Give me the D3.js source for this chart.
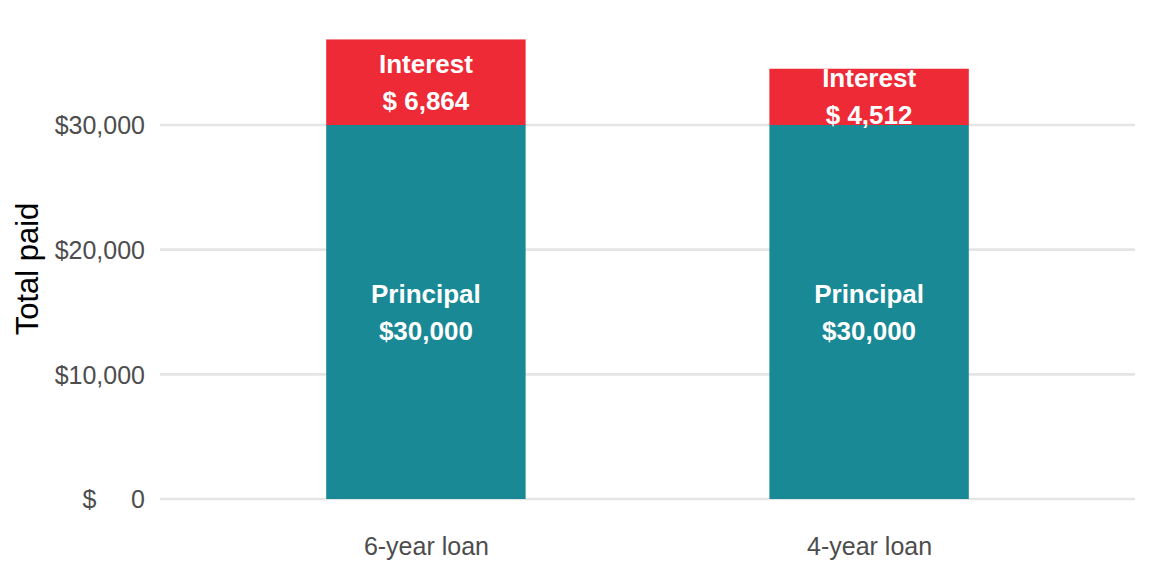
<!DOCTYPE html>
<html>
<head>
<meta charset="utf-8">
<script src="https://cdn.jsdelivr.net/npm/d3@7"></script>
<style>
  body { margin: 0; background: #fff; }
  text { font-family: "Liberation Sans", Arial, sans-serif; white-space: pre; }
</style>
</head>
<body>
<svg id="chart" width="1152" height="576"></svg>
<script>
var loans = ["6-year loan", "4-year loan"];
var principal = [30000, 30000];
var interest = [6864, 4512];
var yTicks = [0, 10000, 20000, 30000];
var tickLabels = ["$     0", "$10,000", "$20,000", "$30,000"];
var principalLabels = ["$30,000", "$30,000"];
var interestLabels = ["$ 6,864", "$ 4,512"];

var colours = { principal: "#1a8996", interest: "#ee2a36" };

var svg = d3.select("#chart");
var left = 160, right = 1135;

var x = d3.scalePoint().domain(loans).range([left, right]).padding(0.6);
var barW = x.step() * 0.45;
var y = d3.scaleLinear().domain([0, 30000]).range([499, 125]);

// gridlines
svg.append("g").selectAll("line")
  .data(yTicks).enter().append("line")
  .attr("x1", left).attr("x2", right)
  .attr("y1", function(d){ return y(d); })
  .attr("y2", function(d){ return y(d); })
  .attr("stroke", "#e5e5e5").attr("stroke-width", 2.6);

// y axis labels
var yAxis = svg.append("g").attr("transform", "translate(145,0)")
  .call(d3.axisLeft(y).tickValues(yTicks).tickSize(0).tickPadding(0)
    .tickFormat(function(d, i){ return tickLabels[i]; }));
yAxis.select(".domain").remove();
yAxis.selectAll("text").attr("fill", "#4d4d4d").style("font-size", "25px")
  .attr("font-family", null).attr("dy", "0.35em");

// x axis labels
var xAxis = svg.append("g").attr("transform", "translate(0,537)")
  .call(d3.axisBottom(x).tickSize(0).tickPadding(0));
xAxis.select(".domain").remove();
xAxis.selectAll("text").attr("fill", "#4d4d4d").style("font-size", "25px")
  .attr("font-family", null).attr("dy", "0.71em");

// y title
svg.append("text")
  .attr("transform", "translate(38,269) rotate(-90)")
  .attr("text-anchor", "middle")
  .style("font-size", "31px")
  .attr("fill", "#000")
  .text("Total paid");

// bars
var bars = svg.append("g");
loans.forEach(function(name, i) {
  var cx = x(name);
  bars.append("rect")
    .attr("x", cx - barW / 2).attr("width", barW)
    .attr("y", y(principal[i])).attr("height", y(0) - y(principal[i]))
    .attr("fill", colours.principal);
  bars.append("rect")
    .attr("x", cx - barW / 2).attr("width", barW)
    .attr("y", y(principal[i] + interest[i])).attr("height", y(principal[i]) - y(principal[i] + interest[i]))
    .attr("fill", colours.interest);

  var pMid = (y(0) + y(principal[i])) / 2;
  var iMid = (y(principal[i]) + y(principal[i] + interest[i])) / 2;
  var labels = [
    { t: "Principal", y: pMid - 18.5 },
    { t: principalLabels[i], y: pMid + 18.5 },
    { t: "Interest", y: iMid - 18.5 },
    { t: interestLabels[i], y: iMid + 18.5 }
  ];
  labels.forEach(function(l) {
    bars.append("text")
      .attr("x", cx).attr("y", l.y).attr("dy", "0.35em")
      .attr("text-anchor", "middle")
      .style("font-size", "26px").style("font-weight", "bold")
      .attr("fill", "#fff")
      .text(l.t);
  });
});
</script>
</body>
</html>
